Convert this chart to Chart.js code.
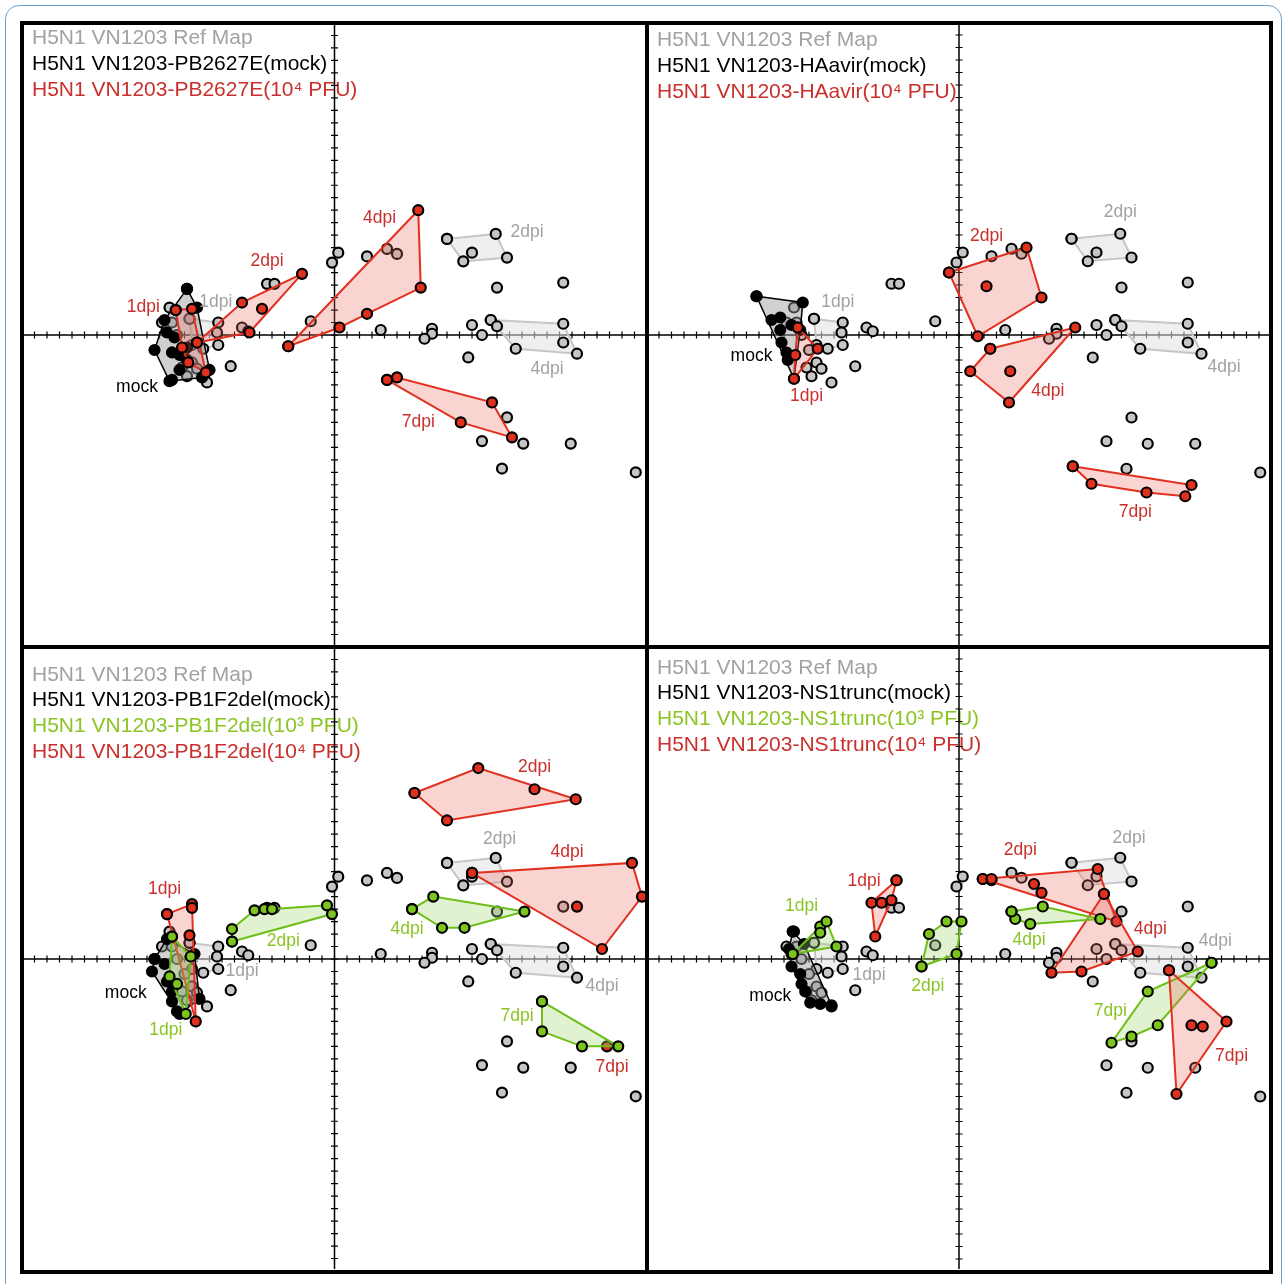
<!DOCTYPE html>
<html>
<head>
<meta charset="utf-8">
<script src="https://cdn.jsdelivr.net/npm/chart.js@4.4.1/dist/chart.umd.min.js"></script>
<style>
  body { margin: 0; background: #fff; width: 1285px; height: 1284px; overflow: hidden; position: relative; }
  #blue { position: absolute; left: 5px; top: 5px; width: 1277px; height: 1300px; border: 1.5px solid #6a9fd4; border-radius: 14px; box-sizing: border-box; }
  #frame { position: absolute; left: 20px; top: 21px; width: 1253px; height: 1253px; border: 4px solid #000; box-sizing: border-box; }
  .vl { position: absolute; left: 645px; top: 21px; width: 4px; height: 1253px; background: #000; }
  .hl { position: absolute; left: 20px; top: 645px; width: 1253px; height: 4px; background: #000; }
  canvas { position: absolute; }
</style>
</head>
<body>
<div id="blue"></div>
<canvas id="tl" width="621" height="620" style="left:24px;top:25px"></canvas>
<canvas id="tr" width="620" height="620" style="left:649px;top:25px"></canvas>
<canvas id="bl" width="621" height="620" style="left:24px;top:649px"></canvas>
<canvas id="br" width="620" height="620" style="left:649px;top:649px"></canvas>
<div id="frame"></div>
<div class="vl"></div>
<div class="hl"></div>
<script>
// map units, 1 unit = one axis tick
const refPoints = [[0.3,6.6],[-0.2,5.8],[2.6,6.3],[4.2,6.9],[5.0,6.5],[11.0,6.6],[13.0,3.8],[18.3,4.2],
  [3.7,0.4],[7.8,0.5],[7.8,0.1],[7.2,-0.3],[11.0,0.8],[11.8,0.0],[13.0,0.7],[18.3,-0.6],[10.7,-1.8],
  [13.8,-6.6],[11.8,-8.5],[15.1,-8.7],[18.9,-8.7],[13.4,-10.7],[24.1,-11.0],[-5.4,4.1],[-4.8,4.1],[-1.9,1.1],
  [-13.2,2.2],[-13.8,1.0],[-9.4,0.2],[-11.4,-2.2],[-11.0,-2.7],[-11.8,-3.3],[-10.2,-3.8],[-8.3,-2.5],
  [-7.4,0.6],[-6.9,0.3],[-13.0,1.0],[-12.6,0.0],[-12.0,-1.2],[-12.2,-2.6]];
const ref1dpiHull = [[-11.6,1.3],[-9.3,1.0],[-9.3,-0.8],[-10.5,-1.1],[-11.4,-0.8]];
const ref2dpiHull = [[9.0,7.7],[12.9,8.1],[13.8,6.2],[10.3,5.9]];
const ref4dpiHull = [[12.5,1.2],[18.3,0.9],[19.4,-1.5],[14.5,-1.1]];

// top left: PB2627E
const tlMockHull = [[-11.8,3.7],[-11.0,2.2],[-10.0,-2.8],[-10.6,-3.4],[-13.2,-3.7],[-14.4,-1.2],[-13.6,1.2]];
const tlMockPts = [[-12.4,-1.6],[-11.8,-2.0],[-13.0,-1.4],[-11.8,-1.0],[-13.4,0.2],[-12.4,-2.8],[-12.8,-0.2],[-13.0,-3.6]];
const tlRed1Hull = [[-12.7,2.0],[-11.4,2.1],[-10.3,-3.0],[-11.7,-2.2],[-12.2,-1.0]];
const tlRed2Hull = [[-11.0,-0.6],[-7.4,2.6],[-2.6,4.9],[-6.8,0.2]];
const tlRed2Pts = [[-5.8,2.1]];
const tlRed4Hull = [[-3.7,-0.9],[6.7,10.0],[6.9,3.8],[2.6,1.7],[0.4,0.6]];
const tlRed7Hull = [[4.2,-3.6],[5.0,-3.4],[12.6,-5.4],[14.2,-8.2],[10.1,-7.0]];

// top right: HAavir
const trMockHull = [[-16.2,3.1],[-12.5,2.6],[-12.7,0.4],[-13.2,-3.5]];
const trMockPts = [[-15.0,1.2],[-14.3,1.4],[-14.3,0.4],[-14.2,-0.6],[-13.8,-1.4],[-13.7,-2.0],[-13.4,0.8]];
const trRed1Hull = [[-12.9,0.6],[-11.3,-1.1],[-13.2,-3.5],[-13.1,-1.6]];
const trRed2Hull = [[-0.8,5.0],[5.4,7.0],[6.6,3.0],[1.5,-0.1]];
const trRed2Pts = [[2.2,3.9]];
const trRed4Hull = [[2.5,-1.1],[9.3,0.6],[4.0,-5.4],[0.9,-2.9]];
const trRed4Pts = [[4.1,-2.9]];
const trRed7Hull = [[9.1,-10.5],[18.6,-12.0],[18.1,-12.9],[15.0,-12.6],[10.6,-11.9]];

// bottom left: PB1F2del
const blMockHull = [[-14.4,0.0],[-13.4,1.6],[-11.2,0.4],[-10.8,-3.2],[-12.4,-4.4],[-14.6,-1.0]];
const blMockPts = [[-13.4,-1.8],[-13.0,-3.4],[-13.0,-2.6],[-13.6,-0.4],[-12.6,-4.2]];
const blRed1Hull = [[-13.4,3.6],[-11.4,4.4],[-11.1,-5.0]];
const blRed1Pts = [[-11.6,1.9],[-11.4,4.1]];
const blGreen1Hull = [[-13.0,1.8],[-11.5,0.2],[-11.9,-4.4],[-13.2,-1.4]];
const blGreen1Pts = [[-12.6,-2.0]];
const blGreen2Hull = [[-8.2,1.4],[-8.2,2.4],[-6.4,3.9],[-0.6,4.3],[-0.2,3.6]];
const blGreen2Pts = [[-5.6,4.0],[-5.0,4.0]];
const blRed2Hull = [[6.4,13.3],[11.5,15.3],[19.3,12.8],[9.0,11.1]];
const blRed2Pts = [[16.0,13.6]];
const blRed4Hull = [[11.0,6.9],[23.8,7.7],[24.6,5.0],[21.4,0.8]];
const blRed4Pts = [[19.4,4.2]];
const blGreen4Hull = [[6.2,4.0],[7.9,5.0],[15.2,3.8],[10.4,2.5],[8.6,2.5]];
const blGreen7Hull = [[16.6,-3.4],[22.7,-7.0],[19.8,-7.0],[16.6,-5.8]];
const blRed7Pts = [[21.8,-7.0]];

// bottom right: NS1trunc
const brMockHull = [[-13.3,2.2],[-12.4,1.2],[-10.2,-3.7],[-11.9,-3.5],[-13.4,-0.6],[-13.6,0.8]];
const brMockPts = [[-13.4,0.4],[-12.7,-1.2],[-12.6,-2.0],[-12.3,-2.6],[-11.1,-3.6]];
const brGreen1Hull = [[-13.3,0.4],[-11.1,2.6],[-10.6,3.0],[-9.8,1.0]];
const brGreen1Pts = [[-11.1,2.1]];
const brRed1Hull = [[-5.0,6.3],[-5.4,4.7],[-6.7,1.8],[-7.0,4.5]];
const brRed1Pts = [[-6.2,4.5]];
const brGreen2Hull = [[-3.0,-0.6],[-2.4,2.0],[-1.0,3.0],[0.2,3.0],[-0.2,0.4]];
const brRed2Hull = [[1.9,6.4],[11.1,7.2],[12.6,3.0]];
const brRed2Pts = [[2.6,6.4],[6.0,6.0],[6.6,5.3]];
const brRed4Hull = [[11.6,5.2],[14.3,0.6],[9.8,-1.0],[7.4,-1.1]];
const brGreen4Hull = [[4.2,3.8],[6.7,4.2],[11.3,3.2],[5.7,2.8],[4.5,3.2]];
const brGreen7Hull = [[20.2,-0.3],[15.1,-2.6],[12.2,-6.7],[13.8,-6.2],[15.9,-5.3]];
const brRed7Hull = [[16.8,-0.9],[21.4,-5.0],[17.4,-10.8]];
const brRed7Pts = [[18.6,-5.3],[19.5,-5.4]];

const legendTL = [['H5N1 VN1203 Ref Map','gray'],['H5N1 VN1203-PB2627E(mock)','black'],['H5N1 VN1203-PB2627E(10\u2074 PFU)','red']];
const legendTR = [['H5N1 VN1203 Ref Map','gray'],['H5N1 VN1203-HAavir(mock)','black'],['H5N1 VN1203-HAavir(10\u2074 PFU)','red']];
const legendBL = [['H5N1 VN1203 Ref Map','gray'],['H5N1 VN1203-PB1F2del(mock)','black'],['H5N1 VN1203-PB1F2del(10\u00b3 PFU)','green'],['H5N1 VN1203-PB1F2del(10\u2074 PFU)','red']];
const legendBR = [['H5N1 VN1203 Ref Map','gray'],['H5N1 VN1203-NS1trunc(mock)','black'],['H5N1 VN1203-NS1trunc(10\u00b3 PFU)','green'],['H5N1 VN1203-NS1trunc(10\u2074 PFU)','red']];

const labelsTL = [['1dpi',-15.3,2.2,'red'],['1dpi',-9.5,2.6,'gray'],['mock',-15.8,-4.2,'black'],['2dpi',-5.4,5.9,'red'],
  ['4dpi',3.6,9.4,'red'],['2dpi',15.4,8.2,'gray'],['4dpi',17.0,-2.7,'gray'],['7dpi',6.7,-7.0,'red']];
const labelsTR = [['mock',-16.6,-1.7,'black'],['1dpi',-9.7,2.6,'gray'],['1dpi',-12.2,-4.9,'red'],['2dpi',2.2,7.9,'red'],
  ['4dpi',7.1,-4.5,'red'],['2dpi',12.9,9.8,'gray'],['4dpi',21.2,-2.6,'gray'],['7dpi',14.1,-14.2,'red']];
const labelsBL = [['1dpi',-13.6,5.6,'red'],['mock',-16.7,-2.7,'black'],['1dpi',-13.5,-5.7,'green'],['1dpi',-7.4,-1.0,'gray'],
  ['2dpi',-4.1,1.4,'green'],['2dpi',16.0,15.4,'red'],['2dpi',13.2,9.6,'gray'],['4dpi',18.6,8.6,'red'],['4dpi',5.8,2.4,'green'],
  ['4dpi',21.4,-2.2,'gray'],['7dpi',14.6,-4.6,'green'],['7dpi',22.2,-8.7,'red']];
const labelsBR = [['1dpi',-12.6,4.2,'green'],['1dpi',-7.6,6.2,'red'],['1dpi',-7.2,-1.3,'gray'],['mock',-15.1,-3.0,'black'],
  ['2dpi',-2.5,-2.2,'green'],['2dpi',4.9,8.7,'red'],['2dpi',13.6,9.7,'gray'],['4dpi',5.6,1.5,'green'],['4dpi',15.3,2.4,'red'],
  ['4dpi',20.5,1.4,'gray'],['7dpi',12.1,-4.2,'green'],['7dpi',21.8,-7.8,'red']];

const TEXT = { gray: '#a2a2a2', black: '#000', red: '#c9302c', green: '#8bc524' };
const STY = {
  ref:   { pt: '#c6c6c6', line: '#c6c6c6', fill: 'rgba(226,226,226,0.55)', lw: 2 },
  mock:  { pt: '#000', line: '#000', fill: 'rgba(150,150,150,0.45)', lw: 1.5 },
  red:   { pt: '#e2301f', line: '#e2301f', fill: 'rgba(232,100,90,0.28)', lw: 2 },
  green: { pt: '#7cc51c', line: '#6dbf17', fill: 'rgba(160,215,110,0.32)', lw: 2 },
};

const pts = a => a.map(p => ({ x: p[0], y: p[1] }));

function hullSet(hull, kind) {
  const s = STY[kind];
  return {
    data: pts(hull.concat([hull[0]])), showLine: true, fill: 'shape', tension: 0,
    backgroundColor: s.fill, borderColor: s.line, borderWidth: s.lw,
    pointRadius: 5, pointBackgroundColor: s.pt, pointBorderColor: '#000', pointBorderWidth: 2.2,
  };
}
function pointSet(list, kind) {
  return {
    data: pts(list), showLine: false,
    pointRadius: 5, pointBackgroundColor: STY[kind].pt, pointBorderColor: '#000', pointBorderWidth: 2.2,
  };
}
function baseSets() {
  return [hullSet(ref1dpiHull, 'ref'), hullSet(ref2dpiHull, 'ref'), hullSet(ref4dpiHull, 'ref'), pointSet(refPoints, 'ref')];
}

const deco = {
  id: 'deco',
  beforeDatasetsDraw(chart, args, opts) {
    const c = chart.ctx, xs = chart.scales.x, ys = chart.scales.y;
    c.save();
    c.font = '21px "Liberation Sans", Arial, sans-serif';
    c.textBaseline = 'middle';
    opts.legend.forEach((l, i) => {
      c.fillStyle = TEXT[l[1]];
      c.fillText(l[0], opts.lx, opts.ly + i * opts.lstep);
    });
    const x0 = xs.getPixelForValue(0), y0 = ys.getPixelForValue(0);
    c.strokeStyle = '#000';
    c.lineWidth = 1.5;
    c.beginPath();
    c.moveTo(0, y0); c.lineTo(chart.width, y0);
    c.moveTo(x0, 0); c.lineTo(x0, chart.height);
    c.stroke();
    c.lineWidth = 1.2;
    c.beginPath();
    for (let v = -25; v <= 25; v++) {
      const px = xs.getPixelForValue(v), py = ys.getPixelForValue(v);
      c.moveTo(px, y0 - 3.5); c.lineTo(px, y0 + 3.5);
      c.moveTo(x0 - 3.5, py); c.lineTo(x0 + 3.5, py);
    }
    c.stroke();
    c.restore();
  },
  afterDatasetsDraw(chart, args, opts) {
    const c = chart.ctx, xs = chart.scales.x, ys = chart.scales.y;
    c.save();
    c.font = '17.5px "Liberation Sans", Arial, sans-serif';
    c.textAlign = 'center';
    c.textBaseline = 'middle';
    opts.labels.forEach(l => {
      c.fillStyle = TEXT[l[3]];
      c.fillText(l[0], xs.getPixelForValue(l[1]), ys.getPixelForValue(l[2]));
    });
    c.restore();
  },
};

function panel(id, sets, legend, labels, ly, lstep) {
  const canvas = document.getElementById(id);
  const half = canvas.width / 2 / 12.5;
  sets.forEach((d, i) => { d.order = sets.length - i; });
  new Chart(canvas.getContext('2d'), {
    type: 'scatter',
    data: { datasets: sets },
    options: {
      responsive: false, animation: false, events: [],
      layout: { padding: 0, autoPadding: false },
      scales: {
        x: { type: 'linear', min: -half, max: half, display: false },
        y: { type: 'linear', min: -half, max: half, display: false },
      },
      plugins: {
        legend: { display: false }, tooltip: { enabled: false },
        deco: { legend: legend, labels: labels, lx: 8, ly: ly, lstep: lstep },
      },
    },
    plugins: [deco],
  });
}

panel('tl', baseSets().concat([
  hullSet(tlMockHull, 'mock'), pointSet(tlMockPts, 'mock'),
  hullSet(tlRed1Hull, 'red'), hullSet(tlRed2Hull, 'red'), pointSet(tlRed2Pts, 'red'),
  hullSet(tlRed4Hull, 'red'), hullSet(tlRed7Hull, 'red'),
]), legendTL, labelsTL, 13, 26);

panel('tr', baseSets().concat([
  hullSet(trMockHull, 'mock'), pointSet(trMockPts, 'mock'),
  hullSet(trRed1Hull, 'red'), hullSet(trRed2Hull, 'red'), pointSet(trRed2Pts, 'red'),
  hullSet(trRed4Hull, 'red'), pointSet(trRed4Pts, 'red'), hullSet(trRed7Hull, 'red'),
]), legendTR, labelsTR, 15, 26);

panel('bl', baseSets().concat([
  hullSet(blMockHull, 'mock'), pointSet(blMockPts, 'mock'),
  hullSet(blRed1Hull, 'red'), pointSet(blRed1Pts, 'red'),
  hullSet(blGreen1Hull, 'green'), pointSet(blGreen1Pts, 'green'),
  hullSet(blGreen2Hull, 'green'), pointSet(blGreen2Pts, 'green'),
  hullSet(blRed2Hull, 'red'), pointSet(blRed2Pts, 'red'),
  hullSet(blRed4Hull, 'red'), pointSet(blRed4Pts, 'red'),
  hullSet(blGreen4Hull, 'green'), pointSet(blRed7Pts, 'red'), hullSet(blGreen7Hull, 'green'),
]), legendBL, labelsBL, 26, 25.7);

panel('br', baseSets().concat([
  hullSet(brMockHull, 'mock'), pointSet(brMockPts, 'mock'),
  hullSet(brGreen1Hull, 'green'), pointSet(brGreen1Pts, 'green'),
  hullSet(brRed1Hull, 'red'), pointSet(brRed1Pts, 'red'),
  hullSet(brGreen2Hull, 'green'),
  hullSet(brRed2Hull, 'red'), pointSet(brRed2Pts, 'red'),
  hullSet(brRed4Hull, 'red'), hullSet(brGreen4Hull, 'green'),
  hullSet(brGreen7Hull, 'green'), hullSet(brRed7Hull, 'red'), pointSet(brRed7Pts, 'red'),
]), legendBR, labelsBR, 19, 25.7);
</script>
</body>
</html>
